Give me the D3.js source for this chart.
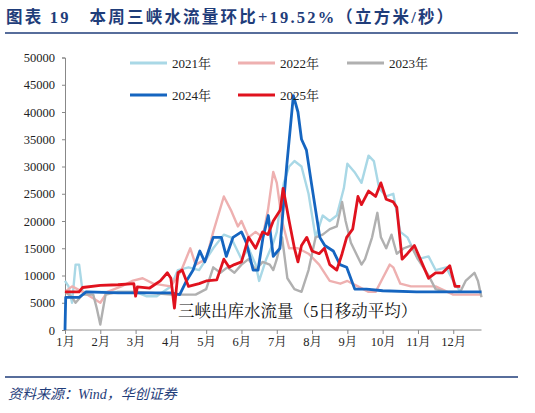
<!DOCTYPE html>
<html><head><meta charset="utf-8">
<script src="https://cdn.jsdelivr.net/npm/d3@7"></script>
<style>body{margin:0;background:#fff}</style></head>
<body><svg id="c" width="535" height="413"></svg>
<script>
const monthLabels=["1月","2月","3月","4月","5月","6月","7月","8月","9月","10月","11月","12月"];
const yTicks=[0,5000,10000,15000,20000,25000,30000,35000,40000,45000,50000];
const years=["2021年","2022年","2023年","2024年","2025年"];
const colors=["#a9d8e6","#eeb0b0","#b0b0b0","#1565c0","#e0121e"];
// [month position (0 = Jan 1), flow]
const s2021=[[0,9000],[0.1,8000],[0.2,5000],[0.3,12000],[0.4,12000],[0.5,7000],[1,7000],[2,7000],[2.3,6200],[2.6,6200],[3,8000],[3.2,11000],[3.5,11500],[3.8,11000],[4.2,15000],[4.5,17500],[4.7,17000],[5,13000],[5.2,15000],[5.4,12000],[5.5,9000],[5.7,13000],[5.9,16000],[6,18000],[6.1,23000],[6.2,27000],[6.35,30000],[6.5,31000],[6.7,30000],[6.9,25000],[7.1,17000],[7.3,21000],[7.5,20000],[7.7,21000],[7.9,26000],[8,30500],[8.2,29000],[8.4,27000],[8.6,32000],[8.75,31000],[8.9,26000],[9.1,24500],[9.3,25000],[9.5,18000],[9.7,17000],[10,13000],[10.3,13500],[10.5,11000],[10.8,11500],[11,9000],[11.2,7000]];
const s2022=[[0,7000],[0.2,8000],[0.5,7000],[1,5000],[1.2,7000],[1.6,8000],[1.9,9000],[2.2,9500],[2.5,8500],[3,8000],[3.3,11000],[3.55,15000],[3.7,12000],[4,13000],[4.2,18000],[4.5,24500],[4.7,22000],[4.9,19000],[5,20000],[5.2,17000],[5.4,18000],[5.6,17000],[5.75,22000],[5.9,29000],[6,27000],[6.15,20000],[6.35,15000],[6.6,15000],[6.9,14000],[7.2,12000],[7.5,9000],[7.8,8500],[8,9000],[8.3,8000],[8.6,7000],[8.8,7000],[9,9500],[9.2,12000],[9.3,11500],[9.5,8500],[9.8,8000],[10.5,8000],[11,6500],[11.8,6500]];
const s2023=[[0,7000],[0.2,6000],[0.3,5000],[0.5,6500],[0.8,6500],[0.9,4000],[1,1000],[1.15,6500],[1.5,7000],[2,7000],[2.5,6800],[3,6500],[3.3,6500],[3.7,6500],[4,7500],[4.2,11500],[4.4,10500],[4.6,11500],[4.8,10500],[5,12000],[5.2,13000],[5.4,11000],[5.6,12500],[5.8,12000],[5.9,11000],[6,13000],[6.15,17000],[6.3,9500],[6.5,7500],[6.7,7000],[6.9,11000],[7.1,17000],[7.3,17500],[7.5,18500],[7.7,19000],[7.85,23500],[7.95,20000],[8.1,16000],[8.4,12000],[8.5,13000],[8.7,17000],[8.85,21500],[8.95,17000],[9.1,15000],[9.25,17500],[9.4,14000],[9.6,15000],[9.8,15500],[10,13000],[10.3,10000],[10.5,7500],[10.8,7000],[11.2,7000],[11.35,9000],[11.6,10500],[11.7,9000],[11.8,6000]];
const s2024=[[0,0],[0.02,6000],[0.4,6000],[0.6,7000],[1.5,6800],[3,6800],[3.25,6500],[3.44,9000],[3.63,11000],[3.82,14500],[3.96,12500],[4.2,17000],[4.43,17000],[4.57,13500],[4.76,17000],[5,18000],[5.14,16000],[5.33,11000],[5.47,11000],[5.61,17000],[5.76,21000],[5.9,13500],[6.09,15000],[6.28,30000],[6.47,43000],[6.6,40000],[6.7,35000],[6.84,33000],[6.98,27000],[7.22,17000],[7.36,15500],[7.6,14500],[7.79,12000],[7.98,11500],[8.21,7500],[8.54,7500],[9,7200],[9.96,7000],[11.8,7000]];
const s2025=[[0,7000],[0.4,7000],[0.5,7800],[1,8200],[1.5,8300],[1.95,8500],[2,6200],[2.05,7900],[2.4,7700],[2.7,9000],[2.9,10500],[3,9500],[3.1,4000],[3.2,10500],[3.32,11000],[3.5,8000],[3.8,8500],[4,9000],[4.3,9200],[4.5,13000],[4.65,11500],[4.8,12000],[5,12500],[5.2,17000],[5.4,15000],[5.6,18000],[5.75,17500],[5.9,20000],[6.1,22000],[6.18,26000],[6.35,20000],[6.5,15000],[6.6,12500],[6.7,15500],[6.85,17000],[7,14500],[7.2,14000],[7.35,15000],[7.5,12000],[7.7,11000],[7.85,14000],[7.98,17000],[8.15,18500],[8.3,24500],[8.4,23000],[8.6,25500],[8.8,24500],[8.95,27000],[9.1,24000],[9.3,23500],[9.4,22500],[9.55,13000],[9.7,14000],[9.9,15500],[10.1,12500],[10.3,9500],[10.5,10500],[10.7,10500],[10.9,11800],[11.05,8000],[11.2,8000]];
const series=[s2021,s2022,s2023,s2024,s2025];

const svg=d3.select("#c");
const navy="#1f3d7a";
svg.append("text").attr("x",6).attr("y",23).attr("fill",navy).attr("font-family","Liberation Serif, Noto Sans CJK SC").attr("font-weight","bold").attr("font-size",16.5).attr("letter-spacing",2.2)
  .text("图表 19\u00a0\u00a0\u00a0本周三峡水流量环比+19.52%（立方米/秒）");
svg.append("line").attr("x1",5).attr("x2",518).attr("y1",33).attr("y2",33).attr("stroke",navy).attr("stroke-width",1.5);
svg.append("line").attr("x1",5).attr("x2",518).attr("y1",377).attr("y2",377).attr("stroke",navy).attr("stroke-width",1.5);
svg.append("text").attr("x",8).attr("y",399).attr("fill",navy).attr("font-family","Liberation Serif, Noto Sans CJK SC").attr("font-style","italic").attr("font-size",14)
  .text("资料来源：Wind，华创证券");

const x=d3.scaleLinear().domain([0,11.8]).range([65,481.5]);
const y=d3.scaleLinear().domain([0,50000]).range([330,57.5]);
const font="Liberation Serif, Noto Serif CJK SC, Noto Sans CJK SC";
const ya=svg.append("g").attr("transform","translate(65,0)").call(d3.axisLeft(y).tickValues(yTicks).tickSize(3).tickFormat(d3.format("d")));
ya.selectAll("text").attr("font-family",font).attr("font-size",12.5).attr("fill","#222").attr("dx",-4);
ya.selectAll("line,path").attr("stroke","#888");
const xa=svg.append("g").attr("transform","translate(0,330)").call(d3.axisBottom(x).tickValues(d3.range(12)).tickSize(4).tickFormat((d,i)=>monthLabels[i]));
xa.selectAll("text").attr("font-family",font).attr("font-size",12.5).attr("fill","#222").attr("dy",9);
xa.selectAll("line,path").attr("stroke","#888");
xa.select("path").attr("d","M65,0H481.5");

const line=d3.line().x(d=>x(d[0])).y(d=>y(d[1]));
series.forEach((s,i)=>{
  svg.append("path").datum(s).attr("d",line).attr("fill","none").attr("stroke",colors[i]).attr("stroke-width",i>=3?2.8:2.4).attr("stroke-linejoin","round");
});
// legend
const lx=[130,238,347,130,238], ly=[63,63,63,95,95];
years.forEach((t,i)=>{
  svg.append("line").attr("x1",lx[i]).attr("x2",lx[i]+37).attr("y1",ly[i]).attr("y2",ly[i]).attr("stroke",colors[i]).attr("stroke-width",2.8);
  svg.append("text").attr("x",lx[i]+42).attr("y",ly[i]+5).attr("font-family",font).attr("font-size",13).attr("fill","#222").text(t);
});
svg.append("text").attr("x",178).attr("y",317).attr("font-family",font).attr("font-size",16.5).attr("fill","#111").text("三峡出库水流量（5日移动平均）");
</script></body></html>
